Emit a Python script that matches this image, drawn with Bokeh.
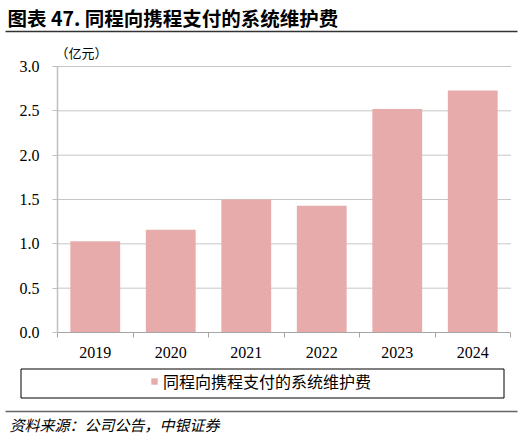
from bokeh.plotting import figure
from bokeh.models import (FixedTicker, Legend, LegendItem, ColumnDataSource, Range1d, LinearAxis)
from bokeh.embed import file_html
from bokeh.resources import INLINE
from bokeh.core.properties import value

# ---- data ----
years = ["2019", "2020", "2021", "2022", "2023", "2024"]
fees = [1.03, 1.16, 1.50, 1.43, 2.52, 2.73]
y_ticks = [0.0, 0.5, 1.0, 1.5, 2.0, 2.5, 3.0]
y_tick_labels = ["0.0", "0.5", "1.0", "1.5", "2.0", "2.5", "3.0"]
title_text = "图表 47. 同程向携程支付的系统维护费"
unit_text = "（亿元）"
series_name = "同程向携程支付的系统维护费"
source_text = "资料来源：公司公告，中银证券"

# ---- layout (canvas pixels) ----
W, H = 522, 438
FL, FR, FT, FB = 57, 510, 66, 332          # plot-area edges
BAR_COLOR = "#E8ABAB"
CJK = "Noto Sans CJK SC"
SERIF = "Liberation Serif"

n = len(years)
ymin, ymax = y_ticks[0], y_ticks[-1]
xpx = (FR - FL) / n
ypx = (FB - FT) / (ymax - ymin)


def dx(px):
    return (px - FL) / xpx


def dy(py):
    return ymin + (FB - py) / ypx


x_centers = [i + 0.5 for i in range(n)]
src = ColumnDataSource(dict(x=x_centers, top=fees, year=years))

p = figure(width=W, height=H, x_range=Range1d(dx(0), dx(W)), y_range=Range1d(dy(H), dy(0)),
           output_backend="svg", toolbar_location=None, title=None, min_border=0,
           x_axis_location=None, y_axis_location=None)
p.outline_line_color = None
p.grid.visible = False

# dotted grid lines over the plot area
grid_src = ColumnDataSource(dict(y=y_ticks[1:]))
p.segment(x0=0, x1=n, y0="y", y1="y", source=grid_src, line_color="#8C8C8C",
          line_dash="1 1", line_width=1)

bars = p.vbar(x="x", top="top", width=0.66, source=src, fill_color=BAR_COLOR, line_color=None)

# ---- axes ----
xa = LinearAxis(fixed_location=ymin, bounds=(0, n))
xa.ticker = FixedTicker(ticks=x_centers, minor_ticks=list(range(n + 1)))
xa.major_label_overrides = {c: y for c, y in zip(x_centers, years)}
xa.major_tick_line_color = None
xa.major_tick_out = 0
xa.major_tick_in = 0
xa.minor_tick_out = 5
xa.minor_tick_in = 0
xa.minor_tick_line_color = "#A6A6A6"
xa.axis_line_color = "#A6A6A6"
xa.major_label_standoff = 9
xa.major_label_text_font = SERIF
xa.major_label_text_font_size = "16px"
xa.major_label_text_color = "#000000"
p.add_layout(xa, "below")

ya = LinearAxis(fixed_location=0, bounds=(ymin, ymax))
ya.ticker = FixedTicker(ticks=y_ticks)
ya.major_label_overrides = {t: l for t, l in zip(y_ticks, y_tick_labels)}
ya.major_tick_out = 5
ya.major_tick_in = 0
ya.minor_tick_line_color = None
ya.major_tick_line_color = "#BFBFBF"
ya.axis_line_color = "#BFBFBF"
ya.axis_line_width = 1.5
ya.major_label_standoff = 13
ya.major_label_text_font = SERIF
ya.major_label_text_font_size = "16px"
ya.major_label_text_color = "#000000"
p.add_layout(ya, "left")

# ---- header ----
p.text(x=[dx(7)], y=[dy(17)], text=[title_text], text_font=value(CJK), text_font_style="bold",
       text_font_size="19.5px", text_baseline="middle", text_align="left", text_color="#000000")
p.segment(x0=[dx(5)], y0=[dy(31)], x1=[dx(517)], y1=[dy(31)], line_color="#333333", line_width=1.5)
p.text(x=[dx(55)], y=[dy(52)], text=[unit_text], text_font=value(CJK),
       text_font_size="13px", text_baseline="middle", text_align="left", text_color="#000000")

# ---- legend ----
p.quad(left=[dx(20.5)], right=[dx(503.5)], top=[dy(368.5)], bottom=[dy(397.5)],
       fill_color=None, line_color="#000000", line_width=1)
legend = Legend(items=[LegendItem(label=series_name, renderers=[bars])],
                location=(150, H - 393), orientation="horizontal",
                border_line_color=None, background_fill_alpha=0, padding=0, margin=0,
                glyph_width=8, glyph_height=8, label_standoff=5, label_height=8,
                label_text_font=CJK, label_text_font_size="16px", label_text_color="#000000")
p.add_layout(legend)

# ---- footer ----
p.segment(x0=[dx(5)], y0=[dy(411)], x1=[dx(517)], y1=[dy(411)], line_color="#666666", line_width=1.5)
p.text(x=[dx(9)], y=[dy(424)], text=[source_text], text_font=value(CJK), text_font_style="italic",
       text_font_size="15px", text_baseline="middle", text_align="left", text_color="#000000")

open("out.html", "w").write(file_html(p, INLINE))
